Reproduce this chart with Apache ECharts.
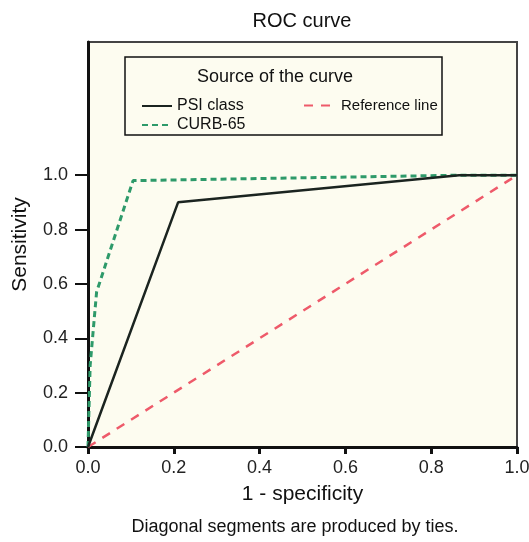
<!DOCTYPE html>
<html>
<head>
<meta charset="utf-8">
<script src="https://cdn.jsdelivr.net/npm/echarts@6/dist/echarts.min.js"></script>
<style>
  html, body { margin: 0; padding: 0; background: #fff; }
  #chart { width: 529px; height: 542px; }
</style>
</head>
<body>
<div id="chart"></div>
<script>
// ROC data: [1 - specificity, sensitivity]
var psiPoints = [[0, 0], [0.21, 0.9], [0.865, 1.0], [1, 1.0]];
var curbPoints = [[0, 0], [0.005, 0.3], [0.02, 0.57], [0.105, 0.98], [0.87, 1.0], [1, 1.0]];
var refPoints = [[0, 0], [1, 1]];
var yTicks = [0, 0.2, 0.4, 0.6, 0.8, 1.0];

var myChart = echarts.init(document.getElementById('chart'));
var font = 'Liberation Sans, Arial, sans-serif';
var option = {
    animation: false,
    title: {
        text: 'ROC curve',
        left: 297,
        top: 6,
        textAlign: 'center',
        textStyle: { fontFamily: font, fontSize: 20, fontWeight: 'normal', color: '#111' }
    },
    grid: {
        left: 88, right: 12, top: 42, bottom: 95,
        outerBoundsMode: 'none',
        containLabel: false,
        show: true,
        backgroundColor: '#fdfcf0',
        borderColor: '#444',
        borderWidth: 2
    },
    legend: [
        {
            data: ['PSI class', 'CURB-65'],
            orient: 'vertical',
            left: 136, top: 93,
            itemWidth: 30, itemHeight: 14, itemGap: 3,
            itemStyle: { opacity: 0 },
            textStyle: { fontFamily: font, fontSize: 16, color: '#111' }
        },
        {
            data: ['Reference line'],
            left: 298, top: 93,
            itemWidth: 32, itemHeight: 14,
            itemStyle: { opacity: 0 },
            textStyle: { fontFamily: font, fontSize: 15, color: '#111' }
        }
    ],
    graphic: [
        {
            type: 'rect',
            shape: { x: 125, y: 57, width: 317, height: 78 },
            style: { fill: 'none', stroke: '#111', lineWidth: 1.5 },
            z: 100
        },
        {
            type: 'text',
            x: 275, y: 77,
            style: { text: 'Source of the curve', fontFamily: font, fontSize: 18, fill: '#111', textAlign: 'center', textVerticalAlign: 'middle' },
            z: 100
        },
        {
            type: 'text',
            x: 295, y: 527,
            style: { text: 'Diagonal segments are produced by ties.', fontFamily: font, fontSize: 18, fill: '#111', textAlign: 'center', textVerticalAlign: 'middle' }
        }
    ],
    xAxis: {
        type: 'value',
        min: 0, max: 1, interval: 0.2,
        name: '1 - specificity',
        nameLocation: 'middle',
        nameGap: 37,
        nameTextStyle: { fontFamily: font, fontSize: 21, color: '#111' },
        splitLine: { show: false },
        axisLine: { lineStyle: { color: '#111', width: 3 } },
        axisTick: { length: 7, lineStyle: { color: '#111', width: 3 } },
        axisLabel: {
            margin: 12, fontFamily: font, fontSize: 18, color: '#222',
            formatter: function (v) { return v.toFixed(1); }
        }
    },
    yAxis: {
        type: 'value',
        min: 0, max: 1.49,
        name: 'Sensitivity',
        nameLocation: 'middle',
        nameGap: 57,
        nameRotate: 90,
        nameTextStyle: { fontFamily: font, fontSize: 21, color: '#111' },
        splitLine: { show: false },
        axisLine: { lineStyle: { color: '#111', width: 3 } },
        axisTick: { length: 13, customValues: yTicks, lineStyle: { color: '#111', width: 2 } },
        axisLabel: {
            margin: 20, fontFamily: font, fontSize: 18, color: '#222',
            customValues: yTicks,
            formatter: function (v) { return v.toFixed(1); }
        }
    },
    series: []
};
option.series.push({
    name: 'PSI class',
    type: 'line',
    symbol: 'none',
    color: '#1b2420',
    lineStyle: { color: '#1b2420', width: 2.5 },
    data: psiPoints,
    z: 3
});
option.series.push({
    name: 'CURB-65',
    type: 'line',
    symbol: 'none',
    color: '#2e9a6a',
    lineStyle: { color: '#2e9a6a', width: 3, type: [6, 4] },
    data: curbPoints,
    z: 2
});
option.series.push({
    name: 'Reference line',
    type: 'line',
    symbol: 'none',
    color: '#ee5a6a',
    lineStyle: { color: '#ee5a6a', width: 2.5, type: [9, 8] },
    data: refPoints,
    z: 1
});
myChart.setOption(option);
</script>
</body>
</html>
